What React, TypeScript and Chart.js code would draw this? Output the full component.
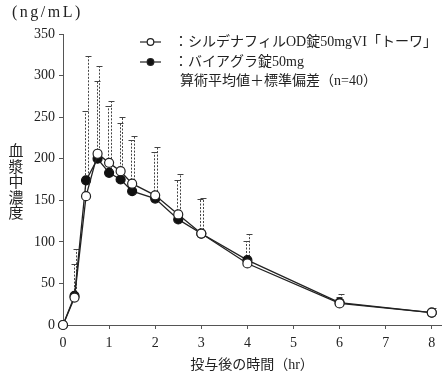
import React, { useEffect, useRef } from "react";
import { Chart, registerables } from "chart.js";

Chart.register(...registerables);

// Sampling times after dosing (hr)
const times = [0, 0.25, 0.5, 0.75, 1, 1.25, 1.5, 2, 2.5, 3, 4, 6, 8];

// Plasma concentration means (ng/mL)
const meanOD = [0, 33, 155, 206, 195, 185, 170, 156, 133, 110, 74, 26, 15];
const meanRef = [0, 35, 174, 200, 183, 175, 161, 152, 127, 110, 78, 27, 15];

// Standard deviations (ng/mL)
const sdOD = [0, 40, 102, 87, 68, 58, 52, 52, 41, 42, 27, 8, 3];
const sdRef = [0, 57, 150, 112, 86, 75, 66, 62, 55, 43, 32, 10, 5];

const xTicks = [0, 1, 2, 3, 4, 5, 6, 7, 8];

const seriesLabels = [
  "：シルデナフィルOD錠50mgVI「トーワ」",
  "：バイアグラ錠50mg",
];
const statsNote = "算術平均値＋標準偏差（n=40）";
const unitLabel = "(ng/mL)";
const xTitle = "投与後の時間（hr）";
const yTitle = ["血", "漿", "中", "濃", "度"];

const FONT = "'Liberation Serif', 'Noto Sans CJK JP', serif";
const CJK = "'Noto Sans CJK JP', sans-serif";
const INK = "#222";
const AXIS = "#555";

const errorBars = {
  id: "errorBars",
  beforeDatasetsDraw(chart: any) {
    const { ctx, scales } = chart;
    const xs = scales.x;
    const ys = scales.y;
    const sets = [
      { mean: meanOD, sd: sdOD, dx: -1 },
      { mean: meanRef, sd: sdRef, dx: 1.5 },
    ];
    ctx.save();
    ctx.strokeStyle = "#444";
    ctx.lineWidth = 1;
    sets.forEach((s) => {
      times.forEach((t, i) => {
        if (!s.sd[i]) return;
        const x = Math.round(xs.getPixelForValue(t) + s.dx) + 0.5;
        const y0 = ys.getPixelForValue(s.mean[i]);
        const y1 = Math.round(ys.getPixelForValue(s.mean[i] + s.sd[i])) + 0.5;
        ctx.setLineDash([2, 1.5]);
        ctx.beginPath();
        ctx.moveTo(x, y0);
        ctx.lineTo(x, y1);
        ctx.stroke();
        ctx.setLineDash([]);
        ctx.beginPath();
        ctx.moveTo(x - 3, y1);
        ctx.lineTo(x + 3, y1);
        ctx.stroke();
      });
    });
    ctx.restore();
  },
};

const annotations = {
  id: "annotations",
  afterDraw(chart: any) {
    const { ctx, chartArea } = chart;
    ctx.save();
    ctx.fillStyle = INK;
    ctx.textBaseline = "middle";

    // unit label
    ctx.font = `16px ${FONT}`;
    (ctx as any).letterSpacing = "2.5px";
    ctx.textAlign = "left";
    ctx.fillText(unitLabel, 12, 13);
    (ctx as any).letterSpacing = "0px";

    // legend
    ctx.font = `14px ${FONT}`;
    const rows = [42, 62];
    rows.forEach((y, i) => {
      ctx.strokeStyle = INK;
      ctx.lineWidth = 1.2;
      ctx.beginPath();
      ctx.moveTo(140, y);
      ctx.lineTo(161, y);
      ctx.stroke();
      ctx.beginPath();
      ctx.arc(150.5, y, 3.3, 0, Math.PI * 2);
      ctx.fillStyle = i === 0 ? "#fff" : "#111";
      ctx.fill();
      ctx.stroke();
      ctx.fillStyle = INK;
      ctx.fillText(seriesLabels[i], 174, y);
    });
    ctx.fillText(statsNote, 180, 81);

    // x title
    ctx.textAlign = "center";
    ctx.fillText(xTitle, (chartArea.left + chartArea.right) / 2, 365);

    // y title, one character per row
    ctx.font = `15px ${CJK}`;
    const pitch = 15.5;
    const mid = (chartArea.top + chartArea.bottom) / 2 + 2;
    yTitle.forEach((c, i) => {
      ctx.fillText(c, 16, mid + (i - (yTitle.length - 1) / 2) * pitch);
    });
    ctx.restore();
  },
};

export default function App() {
  const ref = useRef<HTMLCanvasElement | null>(null);

  useEffect(() => {
    if (!ref.current) return;
    const pointsOD = times.map((t, i) => ({ x: t, y: meanOD[i] }));
    const pointsRef = times.map((t, i) => ({ x: t, y: meanRef[i] }));
    const chart = new Chart(ref.current, {
      type: "line",
      data: {
        datasets: [
          {
            label: seriesLabels[0],
            data: pointsOD,
            borderColor: INK,
            borderWidth: 1.3,
            pointRadius: 4.5,
            pointBackgroundColor: "#fff",
            pointBorderColor: INK,
            pointBorderWidth: 1.2,
            tension: 0,
            clip: false as any,
          },
          {
            label: seriesLabels[1],
            data: pointsRef,
            borderColor: INK,
            borderWidth: 1.3,
            pointRadius: 4.5,
            pointBackgroundColor: "#111",
            pointBorderColor: "#111",
            pointBorderWidth: 1.2,
            tension: 0,
            clip: false as any,
          },
        ],
      },
      options: {
        responsive: false,
        animation: false,
        layout: { padding: { top: 34, right: 7, left: 0, bottom: 0 } },
        plugins: {
          legend: { display: false },
          tooltip: { enabled: false },
        },
        scales: {
          x: {
            type: "linear",
            min: 0,
            max: 8.2,
            afterBuildTicks: (s: any) => {
              s.ticks = xTicks.map((v) => ({ value: v }));
            },
            afterFit: (s: any) => {
              s.height = 51;
            },
            ticks: {
              color: INK,
              font: { family: FONT, size: 14 },
              padding: 6,
              maxRotation: 0,
              callback: (v: any) => String(v),
            },
            grid: {
              display: true,
              drawOnChartArea: false,
              drawTicks: true,
              tickLength: 4,
              color: AXIS,
            },
            border: { display: true, color: AXIS, width: 1 },
          },
          y: {
            min: 0,
            max: 350,
            afterFit: (s: any) => {
              s.width = 63;
            },
            ticks: {
              stepSize: 50,
              color: INK,
              font: { family: FONT, size: 14 },
              padding: 4,
            },
            grid: {
              display: true,
              drawOnChartArea: false,
              drawTicks: true,
              tickLength: 4,
              color: AXIS,
            },
            border: { display: true, color: AXIS, width: 1 },
          },
        },
      },
      plugins: [errorBars, annotations],
    });
    return () => chart.destroy();
  }, []);

  return (
    <div style={{ position: "fixed", left: 0, top: 0, width: 448, height: 376, background: "#fff" }}>
      <canvas ref={ref} width={448} height={376} style={{ display: "block" }} />
    </div>
  );
}
